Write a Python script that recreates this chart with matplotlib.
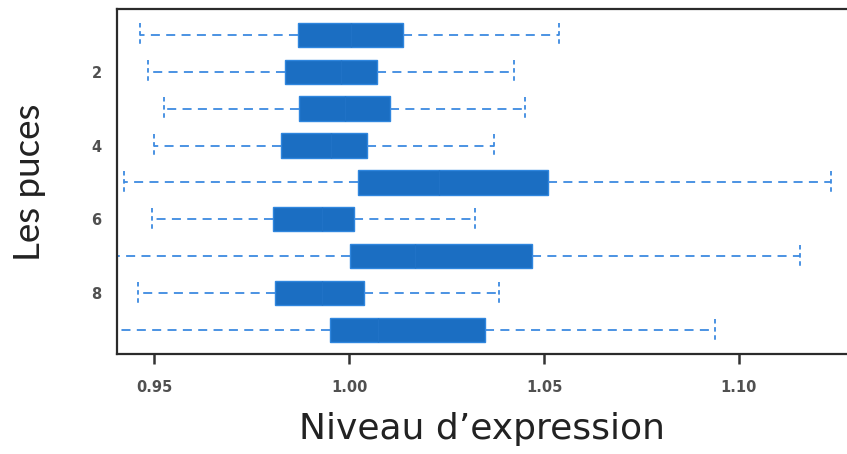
import matplotlib
matplotlib.use("Agg")
import matplotlib.pyplot as plt

# Data, rows 1..9 from top to bottom
puces = [1, 2, 3, 4, 5, 6, 7, 8, 9]
whisk_lo = [0.9464, 0.9485, 0.9526, 0.9500, 0.9423, 0.9495, 0.9350, 0.9459, 0.9350]
q1       = [0.9869, 0.9835, 0.9871, 0.9825, 1.0023, 0.9804, 1.0003, 0.9810, 0.9951]
median   = [1.0005, 0.9980, 0.9990, 0.9954, 1.0230, 0.9930, 1.0170, 0.9930, 1.0075]
q3       = [1.0139, 1.0072, 1.0106, 1.0046, 1.0510, 1.0013, 1.0469, 1.0039, 1.0348]
whisk_hi = [1.0539, 1.0423, 1.0451, 1.0371, 1.1237, 1.0322, 1.1157, 1.0384, 1.0938]
xticks = [0.95, 1.00, 1.05, 1.10]
xtick_labels = ["0.95", "1.00", "1.05", "1.10"]
yticks = [2, 4, 6, 8]
ytick_labels = ["2", "4", "6", "8"]

box_color = "#1b6ec2"
edge_color = "#2f86de"
whisk_color = "#3d8ae0"

fig = plt.figure(figsize=(8.47, 4.54), dpi=100)
ax = fig.add_axes([117/847, 1-354/454, 1-117/847, (354-9)/454])

stats = []
for i in range(len(puces)):
    stats.append(dict(whislo=whisk_lo[i], q1=q1[i], med=median[i], q3=q3[i],
                      whishi=whisk_hi[i], fliers=[], label=str(puces[i])))

ax.bxp(stats, positions=puces, orientation="horizontal", widths=0.66,
       patch_artist=True, showfliers=False,
       boxprops=dict(facecolor=box_color, edgecolor=edge_color, linewidth=1.0),
       medianprops=dict(color="#2072c6", linewidth=1.0),
       whiskerprops=dict(color=whisk_color, linewidth=1.3, linestyle=(0, (5, 3.5))),
       capprops=dict(color=whisk_color, linewidth=1.3, linestyle=(0, (2.5, 2))),
       capwidths=0.62)

ax.set_xlim(0.9405, 1.1277)
ax.set_ylim(9.65, 0.3)

ax.set_xticks(xticks)
ax.set_xticklabels(xtick_labels)
ax.set_yticks(yticks)
ax.set_yticklabels(ytick_labels)

for lab in ax.get_xticklabels() + ax.get_yticklabels():
    lab.set_fontfamily("DejaVu Sans")
    lab.set_fontweight("bold")
    lab.set_fontsize(10.5)
    lab.set_color("#505050")

ax.tick_params(axis="x", length=7, width=1.8, color="#333333", pad=12)
ax.tick_params(axis="y", length=0, pad=11)

for side in ["left", "bottom", "top"]:
    ax.spines[side].set_color("#2b2b2b")
    ax.spines[side].set_linewidth(1.6)
ax.spines["right"].set_visible(False)

fig.text(482/847, 1-439/454, "Niveau d\u2019expression", fontsize=26,
         family="DejaVu Sans", color="#222222", ha="center", va="baseline")
fig.text(29/847, 1-182/454, "Les puces", fontsize=26.5, family="Lato",
         color="#222222", ha="center", va="center", rotation=90)

fig.savefig("out.png", dpi=100)
